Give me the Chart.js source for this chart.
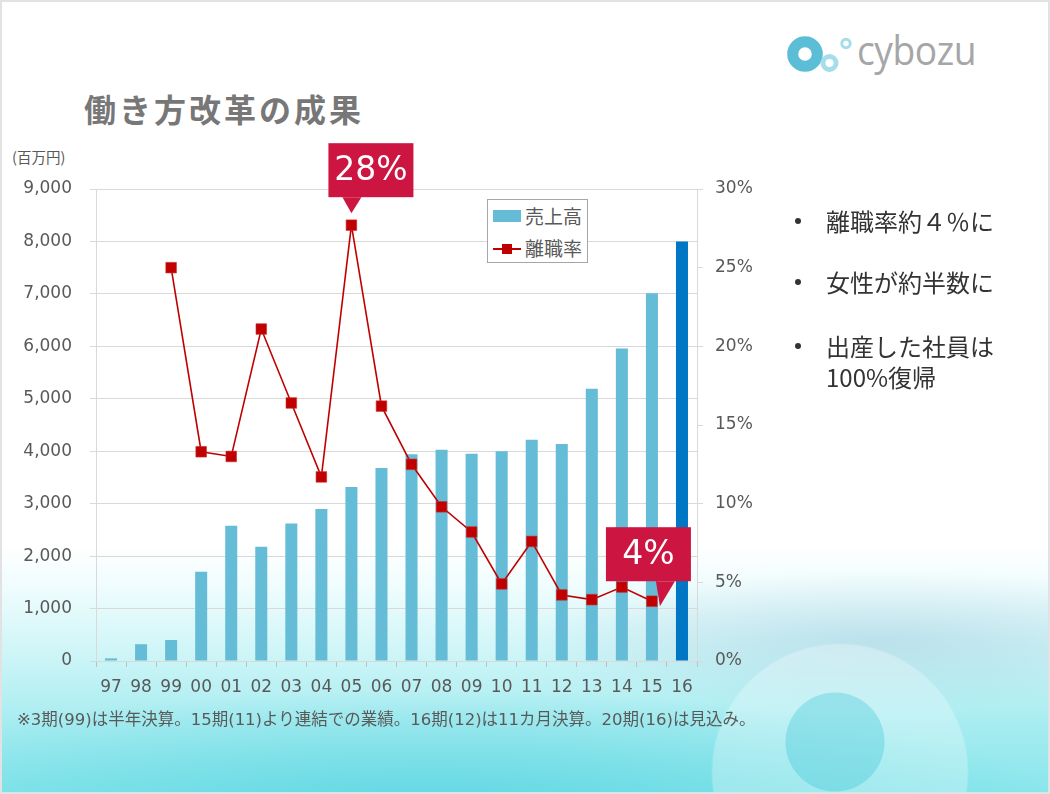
<!DOCTYPE html>
<html>
<head>
<meta charset="utf-8">
<script src="https://cdn.jsdelivr.net/npm/chart.js@4/dist/chart.umd.min.js"></script>
<style>
html,body{margin:0;padding:0;}
body{width:1050px;height:794px;position:relative;overflow:hidden;background:#fff;
  font-family:"DejaVu Sans","Noto Sans CJK JP",sans-serif;}
#bg{position:absolute;left:0;top:0;width:1050px;height:794px;
  background:
    radial-gradient(circle at 835px 742px, rgba(40,190,210,0.30) 0 49px, rgba(40,190,210,0) 50px),
    radial-gradient(circle at 840px 772px, rgba(255,255,255,0.28) 0 127px, rgba(255,255,255,0) 129px),
    radial-gradient(ellipse 360px 70px at 880px 640px, rgba(140,185,210,0.35), rgba(140,185,210,0)),
    radial-gradient(ellipse 620px 110px at 430px 800px, rgba(70,205,220,0.55), rgba(70,205,220,0)),
    linear-gradient(to bottom, #ffffff 0px, #ffffff 545px, #eefcfd 590px, #cdf5f7 655px, #a6ecf0 725px, #88e6eb 794px);
}
#frame{position:absolute;left:0;top:0;width:1050px;height:794px;box-sizing:border-box;border:2px solid #e2e2e2;pointer-events:none;}
canvas#c{position:absolute;left:0;top:0;}
.title{position:absolute;left:84px;top:86px;font-family:"Noto Sans CJK JP",sans-serif;font-weight:700;font-size:32px;letter-spacing:3px;color:#777777;line-height:44px;white-space:nowrap;}
.unit{position:absolute;left:12px;top:147px;font-size:14.5px;color:#595959;font-family:"Noto Sans CJK JP",sans-serif;line-height:20px;}
.logotext{position:absolute;left:857px;top:25px;font-family:"Open Sans","DejaVu Sans",sans-serif;font-size:40px;color:#a6a6a6;letter-spacing:-0.5px;line-height:50px;transform:scaleX(0.93);transform-origin:left center;}
.legend{position:absolute;left:487px;top:199px;width:101px;height:64px;background:#fff;border:1px solid #a6a6a6;box-sizing:border-box;}
.legend .sw{position:absolute;left:5px;top:10px;width:28px;height:12px;background:#65bcd6;}
.legend .ln{position:absolute;left:5px;top:48px;width:28px;height:2px;background:#c00000;}
.legend .mk{position:absolute;left:14px;top:44px;width:10px;height:10px;background:#c00000;}
.legend .t{position:absolute;left:37px;font-family:"Noto Sans CJK JP",sans-serif;font-size:19px;color:#595959;line-height:24px;}
.bullets{position:absolute;left:790px;top:0;font-family:"Noto Sans CJK JP",sans-serif;font-size:24px;color:#333333;}
.bullets div{position:absolute;white-space:nowrap;line-height:31px;}
.bullets .dot{left:5px;width:6px;height:6px;border-radius:50%;background:#333333;}
.bullets .tx{left:36px;}
.note{position:absolute;left:17px;top:708px;font-size:16.5px;color:#595959;white-space:nowrap;line-height:24px;font-family:"DejaVu Sans","Noto Sans CJK JP",sans-serif;}
</style>
</head>
<body>
<div id="bg"></div>
<svg viewBox="780 24 210 70" width="210" height="70" style="position:absolute;left:780px;top:24px;">
  <circle cx="805" cy="54" r="12.3" fill="none" stroke="#5cbdd7" stroke-width="11"/>
  <circle cx="829.5" cy="63" r="6.5" fill="none" stroke="#a7dcea" stroke-width="5"/>
  <circle cx="846" cy="43.5" r="4.2" fill="none" stroke="#a7dcea" stroke-width="3"/>
</svg>
<div class="logotext">cybozu</div>
<div class="title">働き方改革の成果</div>
<div class="unit">(百万円)</div>
<canvas id="c" width="1050" height="794"></canvas>
<div class="legend">
  <div class="sw"></div><div class="t" style="top:4px">売上高</div>
  <div class="ln"></div><div class="mk"></div><div class="t" style="top:36px">離職率</div>
</div>
<div class="bullets">
  <div class="dot" style="top:218px"></div><div class="tx" style="top:205px">離職率約４％に</div>
  <div class="dot" style="top:279px"></div><div class="tx" style="top:266px">女性が約半数に</div>
  <div class="dot" style="top:343px"></div><div class="tx" style="top:330px">出産した社員は</div>
  <div class="tx" style="top:361px">100%復帰</div>
</div>
<div class="note">※3期(99)は半年決算。15期(11)より連結での業績。16期(12)は11カ月決算。20期(16)は見込み。</div>
<div id="frame"></div>
<script>
// ---- data ----
const categories = ['97','98','99','00','01','02','03','04','05','06','07','08','09','10','11','12','13','14','15','16'];
const salesValues = [50, 320, 400, 1700, 2580, 2180, 2620, 2900, 3320, 3680, 3940, 4030, 3950, 4000, 4220, 4140, 5190, 5960, 7010, 8000];
const turnoverRates = [null, null, 25.0, 13.3, 13.0, 21.1, 16.4, 11.7, 27.7, 16.2, 12.5, 9.8, 8.2, 4.9, 7.6, 4.2, 3.9, 4.7, 3.8, null];
const salesTickLabels = ['0','1,000','2,000','3,000','4,000','5,000','6,000','7,000','8,000','9,000'];
const rateTickLabels = ['0%','5%','10%','15%','20%','25%','30%'];
const calloutIndexes = [8, 18];
const calloutTexts = ['28%', '4%'];
const seriesNames = ['売上高', '離職率'];

const GRID = '#d9d9d9';
const TICK = '#595959';
const FONT = '"DejaVu Sans","Noto Sans CJK JP",sans-serif';

const calloutPlugin = {
  id: 'callouts',
  afterDatasetsDraw(chart) {
    const meta = chart.getDatasetMeta(1);
    const ctx = chart.ctx;
    ctx.save();
    calloutIndexes.forEach((idx, k) => {
      const p = meta.data[idx];
      const x = p.x, y = p.y;
      let bx, by, bw = 85, bh = 54, tri;
      if (k === 0) {
        bx = x - 23; by = y - 82;
        tri = [[x - 9, by + bh], [x + 10, by + bh], [x, y - 12]];
      } else {
        bx = x - 46; by = y - 74;
        tri = [[x + 4, by + bh], [x + 23, by + bh], [x + 8, y + 5]];
      }
      ctx.fillStyle = '#cc1541';
      ctx.fillRect(bx, by, bw, bh);
      ctx.beginPath();
      ctx.moveTo(tri[0][0], tri[0][1]);
      ctx.lineTo(tri[1][0], tri[1][1]);
      ctx.lineTo(tri[2][0], tri[2][1]);
      ctx.closePath();
      ctx.fill();
      ctx.fillStyle = '#ffffff';
      ctx.font = '33px ' + FONT;
      ctx.textAlign = 'center';
      ctx.textBaseline = 'middle';
      ctx.fillText(calloutTexts[k], bx + bw / 2, by + bh / 2 + 1);
    });
    ctx.restore();
  }
};

new Chart(document.getElementById('c'), {
  data: {
    labels: categories,
    datasets: [
      {
        type: 'bar',
        label: seriesNames[0],
        data: salesValues,
        yAxisID: 'y',
        backgroundColor: categories.map((c, i) => i === categories.length - 1 ? '#0077c5' : '#65bcd6'),
        barPercentage: 0.4,
        categoryPercentage: 1.0,
        order: 1
      },
      {
        type: 'line',
        label: seriesNames[1],
        data: turnoverRates,
        yAxisID: 'y1',
        borderColor: '#c00000',
        borderWidth: 1.6,
        pointStyle: 'rect',
        pointRadius: 7.5,
        pointBackgroundColor: '#c00000',
        pointBorderColor: '#c9302f',
        pointBorderWidth: 0.6,
        tension: 0,
        order: 0
      }
    ]
  },
  options: {
    responsive: false,
    animation: false,
    devicePixelRatio: 1,
    layout: { padding: { left: 0, top: 189, right: 273, bottom: 93 } },
    plugins: { legend: { display: false }, tooltip: { enabled: false } },
    scales: {
      x: {
        grid: { offset: true, drawOnChartArea: false, tickLength: 6, color: '#bfbfbf' },
        border: { color: GRID },
        ticks: { font: { family: FONT, size: 17 }, color: TICK, padding: 10, maxRotation: 0, autoSkip: false },
        afterFit: s => { s.height = 40; }
      },
      y: {
        position: 'left',
        min: 0, max: 9000,
        grid: { color: GRID, tickLength: 6 },
        border: { color: GRID },
        ticks: { stepSize: 1000, font: { family: FONT, size: 17 }, color: TICK, padding: 18,
          callback: (v) => salesTickLabels[Math.round(v / 1000)] },
        afterFit: s => { s.width = 96; }
      },
      y1: {
        position: 'right',
        min: 0, max: 30,
        grid: { drawOnChartArea: false, tickLength: 6, color: GRID },
        border: { color: GRID },
        ticks: { stepSize: 5, font: { family: FONT, size: 17 }, color: TICK, padding: 12,
          callback: (v) => rateTickLabels[Math.round(v / 5)] },
        afterFit: s => { s.width = 80; }
      }
    }
  },
  plugins: [calloutPlugin]
});
</script>
</body>
</html>
